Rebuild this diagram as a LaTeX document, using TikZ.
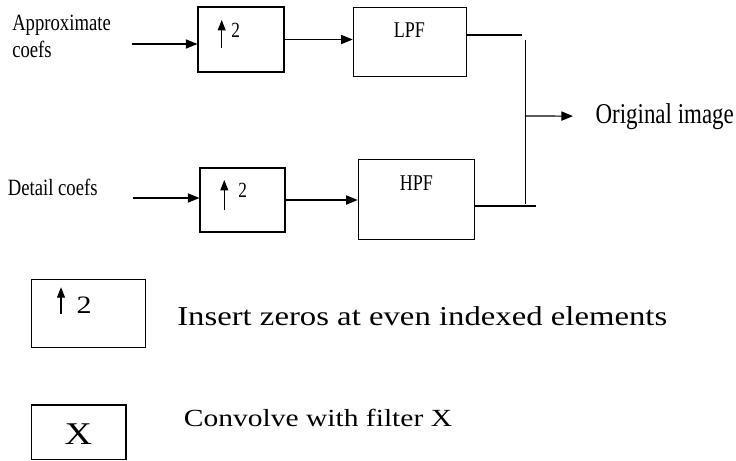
\documentclass[tikz,border=0pt]{standalone}
\usepackage{fontspec}
\setmainfont{Liberation Serif}
\newfontfamily\narrowrm[FakeStretch=0.8]{Liberation Serif}
\newfontfamily\widerm[FakeStretch=1.2]{Liberation Serif}
\usetikzlibrary{arrows.meta}

\begin{document}
\begin{tikzpicture}[x=0.025cm, y=-0.025cm, line width=0.8pt,
    >={Triangle[length=2.9mm,width=2.3mm]}]
  \tikzset{blk/.style={draw, inner sep=0pt},
           txt/.style={inner sep=0pt, anchor=base west},
           up/.style={-{Triangle[length=2.6mm,width=2mm]}}}
  \useasboundingbox (0,0) rectangle (736,460);
  \node[blk, minimum width=2.15cm, minimum height=1.625cm] (up1) at (241,39.5) {};
  \node[blk, minimum width=2.125cm, minimum height=1.6cm] (up2) at (242.5,200) {};
  \node[blk, minimum width=2.835cm, minimum height=1.735cm] (lpf) at (410,42) {};
  \node[blk, minimum width=2.9cm, minimum height=2cm] (hpf) at (416.3,199.3) {};
  \node[blk, minimum width=2.85cm, minimum height=1.7cm] (key1) at (88.7,313.3) {};
  \node[blk, minimum width=2.3575cm, minimum height=1.3575cm] (key2) at (78.85,432.2) {};
  \node[txt, anchor=north west, align=left, font=\narrowrm\fontsize{16.6}{19.2}\selectfont]
    (approx) at (11.7,14.5) {Approximate\\coefs};
  \node[txt, font=\narrowrm\fontsize{16.6}{19.2}\selectfont] (detail) at (7.3,195.7) {Detail coefs};
  \node[txt, font=\narrowrm\fontsize{16}{19}\selectfont] (lpft) at (393.3,37.3) {LPF};
  \node[txt, font=\narrowrm\fontsize{16}{19}\selectfont] (hpft) at (399.3,190) {HPF};
  \node[txt, font=\narrowrm\fontsize{20.4}{24}\selectfont] (orig) at (595,123) {Original image};
  \node[txt, font=\narrowrm\fontsize{15.4}{18}\selectfont] (two1) at (230.7,37.3) {2};
  \node[txt, font=\narrowrm\fontsize{15.4}{18}\selectfont] (two2) at (237.7,197.3) {2};
  \node[txt, font=\widerm\fontsize{17.8}{21}\selectfont] (two3) at (76,313.3) {2};
  \node[txt, font=\widerm\fontsize{22.5}{27}\selectfont] (xname) at (64,444) {X};
  \node[txt, font=\widerm\fontsize{19.4}{23}\selectfont] (insert) at (176.7,325) {Insert zeros at even indexed elements};
  \node[txt, font=\widerm\fontsize{17.5}{21}\selectfont] (conv) at (183.3,426.7) {Convolve with filter X};
  \draw[up] (221.7,48.3) -- (221.7,20);
  \draw[up] (224.3,210) -- (224.3,180);
  \draw[up] (61,314) -- (61,287.3);
  \coordinate (a0) at (132,44);
  \coordinate (d0) at (133,198);
  \draw[->] (a0) -- (a0 -| up1.west);
  \draw[->] (d0) -- (d0 -| up2.west);
  \draw[->] (up1.east) -- (up1.east -| lpf.west);
  \draw[->] (up2.east) -- (up2.east -| hpf.west);
  \coordinate (jt) at (521.7,35);
  \coordinate (jv) at (525.7,40);
  \coordinate (jb) at (525.7,204.3);
  \coordinate (je) at (535.7,206);
  \coordinate (jm) at (525.7,116);
  \draw (lpf.east |- jt) -- (jt);
  \draw (jv) -- (jb);
  \draw (hpf.east |- je) -- (je);
  \draw[->, shorten >=0.55cm] (jm) -- (orig.west);
\end{tikzpicture}
\end{document}
